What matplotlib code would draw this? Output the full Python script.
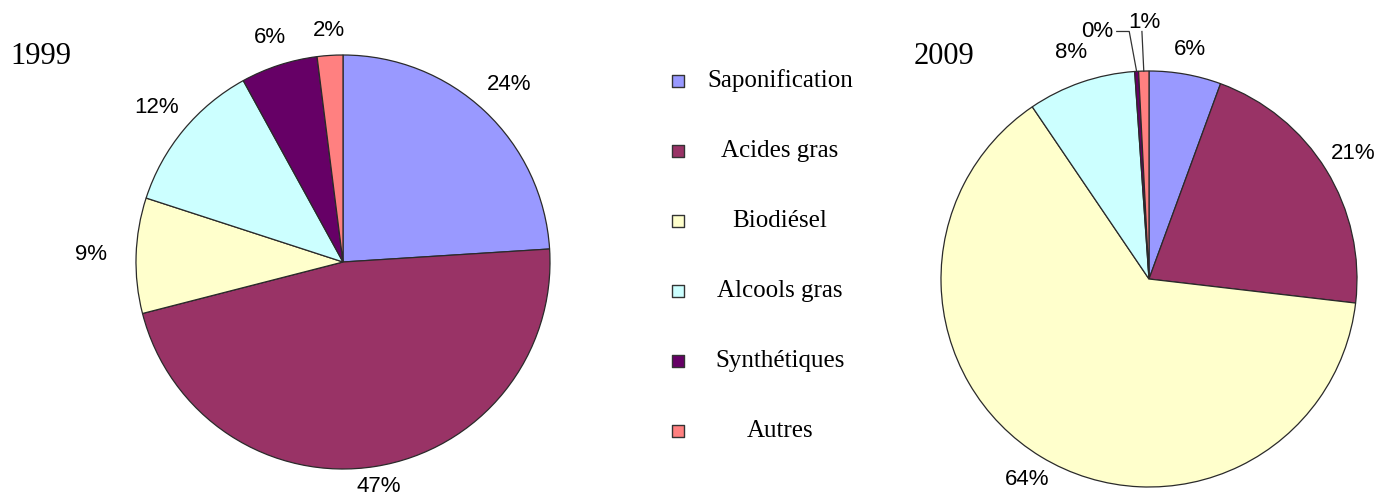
import matplotlib
matplotlib.use("Agg")
import matplotlib.pyplot as plt
import numpy as np

# data
categories = ["Saponification", "Acides gras", "Biodiésel", "Alcools gras",
              "Synthétiques", "Autres"]
colors = ["#9999FF", "#993366", "#FFFFCC", "#CCFFFF", "#660066", "#FF8080"]
share_1999 = [24, 47, 9, 12, 6, 2]
share_2009 = [5.6, 21.3, 63.8, 8.4, 0.3, 0.8]
years = ["1999", "2009"]

# label distance (in radii) per slice, mimicking the original placement
dist_1999 = [1.175, 1.10, 1.22, 1.17, 1.14, 1.12]
dist_2009 = [1.12, 1.15, 1.13, 1.15, 1.0, 1.0]

W, H = 1381, 497
fig = plt.figure(figsize=(W / 100, H / 100), dpi=100)
fig.patch.set_facecolor("white")

SANS = ["Liberation Sans", "DejaVu Sans"]
SERIF = ["Liberation Serif", "DejaVu Serif"]


def pie_axes(cx, cy, r, pad=1.03):
    h = r * pad
    return fig.add_axes([(cx - h) / W, (H - cy - h) / H, 2 * h / W, 2 * h / H])


def draw_pie(ax, values, dists, small=()):
    wedges, _ = ax.pie(values, colors=colors, startangle=90,
                       counterclock=False,
                       wedgeprops=dict(edgecolor="#2a2a2a", linewidth=0.9))
    for i, (w, v, d) in enumerate(zip(wedges, values, dists)):
        if i in small:
            continue
        mid = np.deg2rad((w.theta1 + w.theta2) / 2)
        ax.text(d * np.cos(mid), d * np.sin(mid), f"{v:.0f}%",
                family=SANS, fontsize=16, ha="center", va="center")
    ax.set_xlim(-1.03, 1.03); ax.set_ylim(-1.03, 1.03)
    ax.set_aspect("equal")
    ax.axis("off")
    return wedges


ax1 = pie_axes(343, 262, 207)
draw_pie(ax1, share_1999, dist_1999)

ax2 = pie_axes(1149, 279, 208)
w2 = draw_pie(ax2, share_2009, dist_2009, small=(4, 5))

# labels + leader lines for the two thin slices
def edge_pt(w):
    mid = np.deg2rad((w.theta1 + w.theta2) / 2)
    return np.cos(mid), np.sin(mid)

ex, ey = edge_pt(w2[4])
ax2.text(-0.25, 1.19, f"{share_2009[4]:.0f}%", family=SANS, fontsize=16,
         ha="center", va="center")
ax2.plot([-0.155, -0.095, ex], [1.19, 1.19, ey], color="#333333", lw=0.9,
         clip_on=False)
ex, ey = edge_pt(w2[5])
ax2.text(-0.02, 1.235, f"{share_2009[5]:.0f}%", family=SANS, fontsize=16,
         ha="center", va="center")
ax2.plot([-0.034, ex], [1.19, ey], color="#333333", lw=0.9, clip_on=False)

# year titles
fig.text(41 / W, 1 - 57 / H, years[0], family=SERIF, fontsize=22,
         ha="center", va="center")
fig.text(944 / W, 1 - 57 / H, years[1], family=SERIF, fontsize=22,
         ha="center", va="center")

# legend drawn by hand (centred labels)
axl = fig.add_axes([0, 0, 1, 1], facecolor="none")
axl.set_xlim(0, W); axl.set_ylim(H, 0)
axl.axis("off")
for i, (name, c) in enumerate(zip(categories, colors)):
    y = 81 + 70 * i
    axl.scatter([678], [y], marker="s", s=70, color=c,
                edgecolors="#333333", linewidths=1.0)
    axl.text(780, y, name, family=SERIF, fontsize=18,
             ha="center", va="center")

fig.savefig("out.png", dpi=100)
